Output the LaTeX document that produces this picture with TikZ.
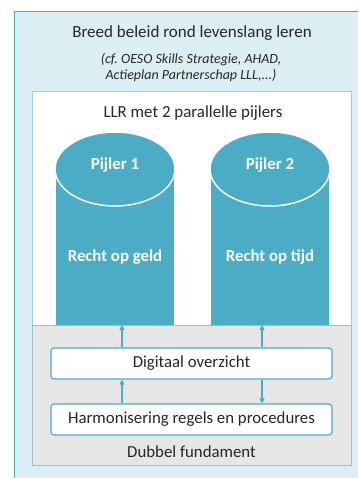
\documentclass[tikz,border=0pt]{standalone}
\usepackage{fontspec}
\setmainfont{Carlito}
\usetikzlibrary{arrows.meta}
\frenchspacing
\definecolor{teal1}{HTML}{4BACC6}
\definecolor{outerfill}{HTML}{DBEEF4}
\definecolor{grayfill}{HTML}{E6E6E6}
\definecolor{txt}{HTML}{262626}
\tikzset{
  boxstyle/.style={draw=teal1, line width=1.1pt, fill=white, rounded corners=3pt, minimum width=281pt, minimum height=31pt, inner sep=0pt, font=\fontsize{16.8}{18}\selectfont, text=txt},
  cyltext/.style={text=white, font=\bfseries\fontsize{16.8}{18}\selectfont},
  conn/.style={draw=teal1, line width=1.1pt, -{Triangle[length=5pt,width=5pt]}},
  lbl/.style={text=txt, inner sep=0pt}
}
\begin{document}
\begin{tikzpicture}[x=1pt,y=-1pt]
\useasboundingbox (0,0) rectangle (358,478);
\clip (0,0) rectangle (358,478);
% outer box
\fill[white] (0,0) rectangle (358,478);
\draw[draw=teal1, line width=1pt, fill=outerfill] (14,12) rectangle (370,490);
\node[lbl, font=\fontsize{17}{19}\selectfont] (title) at (192,33) {Breed beleid rond levenslang leren};
\node[lbl, font=\itshape\fontsize{14}{16}\selectfont, align=center] (sub) at (191,68) {(cf.\ OESO Skills Strategie, AHAD,\\Actieplan Partnerschap LLL,...)};
% inner white box
\draw[draw=teal1!55, line width=0.8pt, fill=white] (32,91) rectangle (351,465);
\node[lbl, font=\fontsize{16.9}{19}\selectfont] (llr) at (193,113) {LLR met 2 parallelle pijlers};
% cylinders
\foreach \cx in {115,270}{
  \fill[teal1] (\cx-60,169) -- (\cx-60,330) -- (\cx+60,330) -- (\cx+60,169) -- cycle;
  \draw[white, line width=1.5pt] (\cx-60,169) -- (\cx-60,330);
  \draw[white, line width=1.5pt] (\cx+60,169) -- (\cx+60,330);
  \draw[white, line width=1.5pt, fill=teal1] (\cx,169) ellipse [x radius=60, y radius=37];
}
\node[cyltext] (p1) at (115,165) {Pijler 1};
\node[cyltext] (p2) at (270,165) {Pijler 2};
\node[cyltext] (r1) at (115,257) {Recht op geld};
\node[cyltext] (r2) at (270,257) {Recht op tijd};
% gray foundation
\draw[draw=teal1!35!gray!60, line width=0.8pt, fill=grayfill] (32,325) rectangle (351,465);
\coordinate (c1) at (122,325);
\coordinate (c2) at (262,325);
\node[boxstyle] (dig) at (191.5,363.5) {Digitaal overzicht};
\node[boxstyle] (harm) at (191.5,419.5) {Harmonisering regels en procedures};
\node[lbl, font=\fontsize{16.8}{18}\selectfont] (dub) at (191.5,452) {Dubbel fundament};
% connectors
\draw[conn] (dig.north -| c1) -- (c1);
\draw[conn] (dig.north -| c2) -- (c2);
\draw[conn] (harm.north -| c1) -- (dig.south -| c1);
\draw[conn] (dig.south -| c2) -- (harm.north -| c2);
\end{tikzpicture}
\end{document}
